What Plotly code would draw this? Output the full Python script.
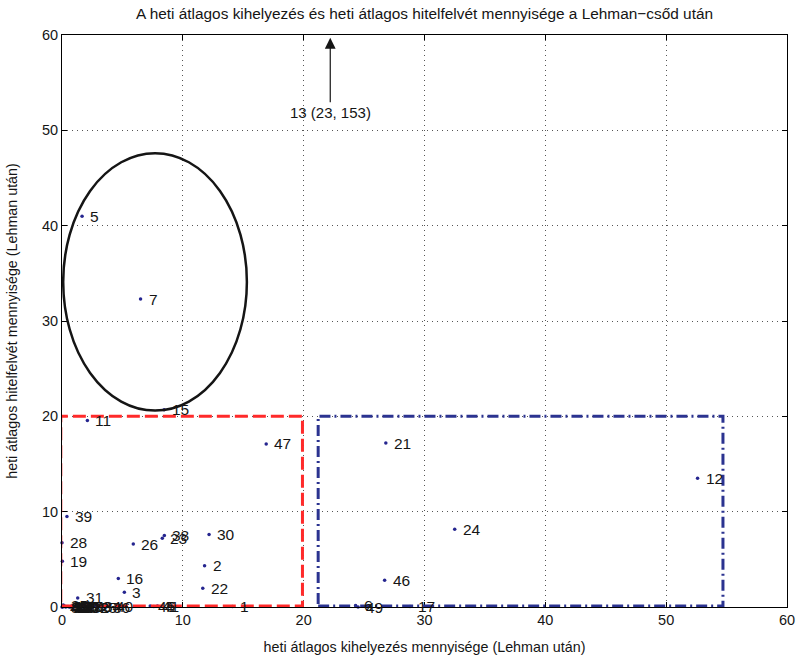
import plotly.graph_objects as go

# Bank identifiers and weekly averages after the Lehman collapse
labels = ["1", "2", "3", "4", "5", "6", "7", "11", "12", "15", "16", "17", "19",
          "21", "22", "23", "24", "26", "28", "30", "38", "39", "41", "45", "46",
          "47", "49",
          "8", "9", "10", "14", "18", "20", "27", "29", "31", "32", "33", "25",
          "34", "36", "40", "35", "37", "42", "43", "44", "48", "50"]
lending = [14.1, 11.8, 5.16, 7.9, 1.66, 24.3, 6.5, 2.1, 52.6, 8.45, 4.66, 28.8, 0.03,
           26.8, 11.65, 8.3, 32.5, 5.9, 0.0, 12.17, 8.47, 0.41, 7.6, 7.3, 26.7,
           16.9, 24.5,
           0.05, 0.2, 0.4, 0.6, 0.8, 1.0, 1.2, 1.4, 1.3, 1.8, 2.0, 2.5,
           2.8, 3.55, 3.8, 0.1, 0.3, 0.0, 0.15, 0.5, 0.7, 0.9]
borrowing = [0.05, 4.33, 1.54, 0.1, 41.0, 0.15, 32.3, 19.55, 13.5, 20.7, 3.0, 0.05, 4.8,
             17.2, 1.96, 7.2, 8.15, 6.6, 6.75, 7.6, 7.5, 9.5, 0.05, 0.1, 2.8,
             17.1, 0.0,
             0.0, 0.1, 0.05, 0.0, 0.1, 0.0, 0.05, 0.1, 0.95, 0.0, 0.1, 0.0,
             0.05, 0.0, 0.05, 0.2, 0.0, 0.0, 0.1, 0.05, 0.0, 0.1]

# Outlier beyond the visible range
outlier_label = "13 (23, 153)"
outlier_arrow_x = 22.2

x_ticks = [0, 10, 20, 30, 40, 50, 60]
y_ticks = [0, 10, 20, 30, 40, 50, 60]

title = "A heti átlagos kihelyezés és heti átlagos hitelfelvét mennyisége a Lehman\u2212csőd után"
x_title = "heti átlagos kihelyezés mennyisége (Lehman után)"
y_title = "heti átlagos hitelfelvét mennyisége (Lehman után)"

FONT = "Liberation Sans, Arial, Helvetica, sans-serif"
NAVY = "#25258f"
INK = "#151515"

fig = go.Figure()
fig.add_trace(go.Scatter(
    x=lending, y=borrowing, mode="markers",
    marker=dict(color=NAVY, size=3.5),
    hoverinfo="skip", showlegend=False, cliponaxis=False,
))

annotations = []
for lab, xv, yv in zip(labels, lending, borrowing):
    annotations.append(dict(
        x=xv, y=yv, xref="x", yref="y", text=lab, showarrow=False,
        xanchor="left", yanchor="middle", xshift=6,
        font=dict(family=FONT, size=15.5, color=INK),
    ))

# Arrow pointing to the off-scale bank
annotations.append(dict(
    x=outlier_arrow_x, y=59.7, xref="x", yref="y",
    ax=outlier_arrow_x, ay=51.9, axref="x", ayref="y",
    text=outlier_label, showarrow=True, arrowhead=2, arrowsize=1.8,
    arrowwidth=1.2, arrowcolor=INK, standoff=0,
    font=dict(family=FONT, size=15, color=INK),
))

shapes = [
    # group with high borrowing
    dict(type="circle", xref="x", yref="y", x0=0.1, x1=15.3, y0=20.6, y1=47.6,
         line=dict(color=INK, width=2.5)),
    # low lending / low borrowing group
    dict(type="rect", xref="x", yref="y", x0=-0.1, x1=19.9, y0=0.1, y1=20,
         line=dict(color="#ff2a2a", width=3, dash="13px,5px")),
    # high lending group
    dict(type="rect", xref="x", yref="y", x0=21.2, x1=54.7, y0=0.1, y1=20,
         line=dict(color="#2b3390", width=3, dash="11px,4px,2px,4px")),
]

axis_common = dict(
    showline=True, linecolor="black", linewidth=1, mirror="ticks",
    ticks="inside", ticklen=5, tickcolor="black",
    showgrid=True, gridcolor="#555555", griddash="1px,4px", gridwidth=1,
    zeroline=False, automargin=False,
    tickfont=dict(family=FONT, size=14.5, color=INK),
)

fig.update_layout(
    width=798, height=655,
    margin=dict(l=62, r=11, t=35, b=48),
    paper_bgcolor="white", plot_bgcolor="white",
    title=dict(text=title, x=(62 + 787) / 2 / 798, xanchor="center",
               y=1 - 14 / 655, yanchor="middle",
               font=dict(family=FONT, size=15.4, color=INK)),
    xaxis=dict(range=[0, 60], tickvals=x_ticks,
               title=dict(text=x_title, standoff=14,
                          font=dict(family=FONT, size=14.3, color=INK)),
               **axis_common),
    yaxis=dict(range=[0, 60], tickvals=y_ticks,
               title=dict(text=y_title, standoff=20,
                          font=dict(family=FONT, size=14.3, color=INK)),
               **axis_common),
    annotations=annotations,
    shapes=shapes,
)

fig.write_html("out.html")
